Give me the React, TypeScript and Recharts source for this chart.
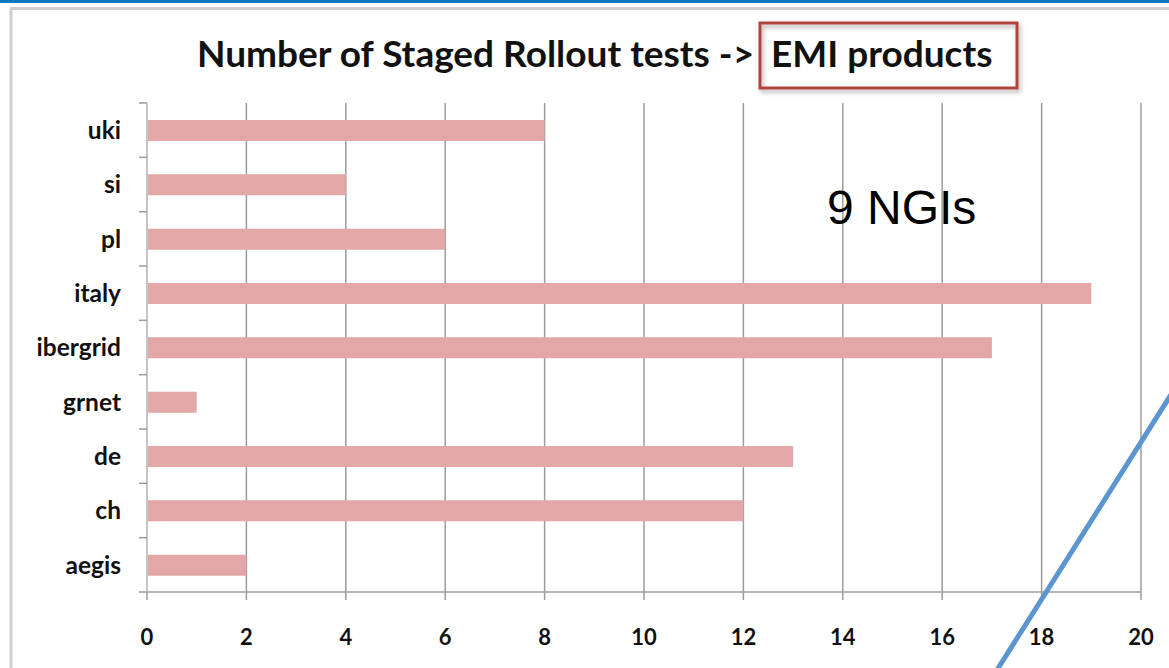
import React from 'react';
import { BarChart, Bar, XAxis, YAxis, CartesianGrid } from 'recharts';

const categories = ['uki', 'si', 'pl', 'italy', 'ibergrid', 'grnet', 'de', 'ch', 'aegis'];
const tests = [8, 4, 6, 19, 17, 1, 13, 12, 2];
const xTicks = [0, 2, 4, 6, 8, 10, 12, 14, 16, 18, 20];
const titleMain = 'Number of Staged Rollout tests -> ';
const titleBoxed = 'EMI products';
const annotation = '9 NGIs';

const data = categories.map((name, i) => ({ name, value: tests[i] }));

const W = 1169;
const H = 668;
const PLOT_TOP = 103;
const PLOT_BOTTOM = 592;
const BAND = (PLOT_BOTTOM - PLOT_TOP) / categories.length;
const LABEL_FONT = 'Lato, "Open Sans", sans-serif';
const GRID = '#9c9c9c';

const CatTick = (props: any) => {
  const { x, y, payload, index } = props;
  const axisX = x + 26;
  const last = index === categories.length - 1;
  return (
    <g>
      <text x={x} y={y} dy="0.36em" textAnchor="end" fontFamily={LABEL_FONT} fontWeight={700} fontSize={24.5} fill="#111">
        {payload.value}
      </text>
      <line x1={axisX - 8} x2={axisX} y1={y - BAND / 2} y2={y - BAND / 2} stroke={GRID} strokeWidth={1.5} />
      {last && <line x1={axisX - 8} x2={axisX} y1={y + BAND / 2} y2={y + BAND / 2} stroke={GRID} strokeWidth={1.5} />}
    </g>
  );
};

export default function App() {
  return (
    <div style={{ position: 'fixed', left: 0, top: 0, width: W, height: H, background: '#fff', overflow: 'hidden' }}>
      <svg width={W} height={H} style={{ position: 'absolute', left: 0, top: 0 }}>
        <rect x={0} y={0} width={W} height={3} fill="#0a78c2" />
        <line x1={10} x2={W} y1={8.5} y2={8.5} stroke="#cfcfcf" strokeWidth={3} />
        <line x1={11} x2={11} y1={8} y2={H} stroke="#cfcfcf" strokeWidth={3} />
      </svg>
      <div style={{ position: 'absolute', left: 0, top: 0 }}>
        <BarChart
          width={W}
          height={H}
          data={data}
          layout="vertical"
          margin={{ top: PLOT_TOP, right: 28, bottom: 16, left: 87 }}
          barSize={21}
        >
          <CartesianGrid horizontal={false} stroke={GRID} strokeWidth={1.5} />
          <XAxis
            type="number"
            domain={[0, 20]}
            ticks={xTicks}
            interval={0}
            height={60}
            axisLine={{ stroke: GRID, strokeWidth: 1.5 }}
            tickLine={{ stroke: GRID, strokeWidth: 1.5 }}
            tickSize={8}
            tickMargin={29}
            tick={{ fontFamily: LABEL_FONT, fontWeight: 700, fontSize: 22, fill: '#111' }}
          />
          <YAxis
            type="category"
            dataKey="name"
            width={60}
            interval={0}
            axisLine={{ stroke: '#c4c4c4', strokeWidth: 2 }}
            tickLine={false}
            tickSize={8}
            tickMargin={18}
            tick={<CatTick />}
          />
          <Bar dataKey="value" fill="#e3a7a7" isAnimationActive={false} />
        </BarChart>
      </div>
      <svg width={W} height={H} style={{ position: 'absolute', left: 0, top: 0, pointerEvents: 'none' }}>
        <defs>
          <filter id="sh" x="-10%" y="-20%" width="130%" height="160%">
            <feDropShadow dx="2" dy="3" stdDeviation="2" floodColor="#000" floodOpacity="0.3" />
          </filter>
        </defs>
        <rect x={760} y={23} width={257} height={65} fill="none" stroke="#b0443e" strokeWidth={3} filter="url(#sh)" />
        <text x={197} y={67} fontFamily={LABEL_FONT} fontWeight={700} fontSize={37} fill="#111">
          {titleMain}
          <tspan x={771}>{titleBoxed}</tspan>
        </text>
        <text x={827} y={224} fontFamily='"Liberation Sans", Arial, sans-serif' fontSize={48} fill="#000">
          {annotation}
        </text>
        <line x1={997} y1={670} x2={1172} y2={393} stroke="#5b96d0" strokeWidth={5} />
      </svg>
    </div>
  );
}
